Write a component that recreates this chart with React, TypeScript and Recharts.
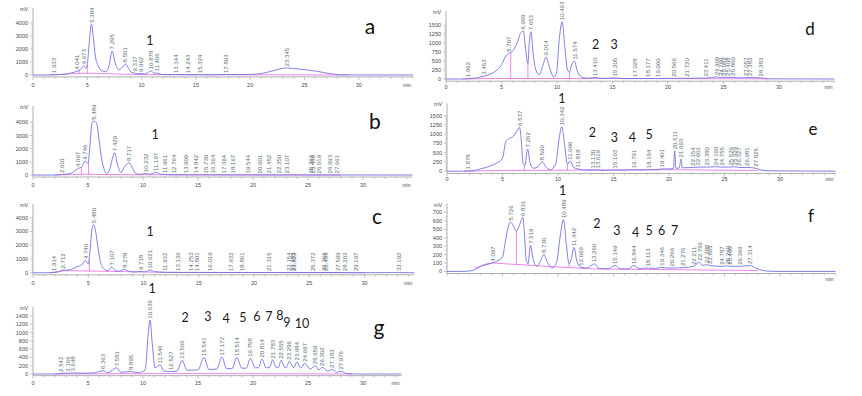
import React from 'react';
import { ComposedChart, Line, Scatter, XAxis, YAxis, ReferenceLine } from 'recharts';

type P = [number, number];
type Drop = [number, number, number];
type Num = [string, number, number];

// ---------------- Panel a ----------------
const traceA: P[] = [[0,0],[1.5,0],[1.933,20],[2.5,30],[3.0,60],[3.5,150],[4.041,280],[4.3,380],[4.5,550],[4.673,700],[4.85,520],[5.0,800],[5.15,2200],[5.384,3900],[5.55,2900],[5.75,1400],[6.0,700],[6.35,320],[6.7,250],[7.0,700],[7.295,1850],[7.55,950],[7.9,420],[8.2,560],[8.501,850],[8.8,520],[9.1,180],[9.337,150],[9.6,90],[9.962,110],[10.3,80],[10.6,200],[10.878,320],[11.15,120],[11.406,150],[11.8,40],[12.5,20],[13.144,30],[14.243,20],[15.324,20],[16.5,15],[17.803,30],[19.0,30],[20.0,40],[21.0,100],[22.0,300],[23.345,540],[24.5,450],[26.0,300],[27.5,80],[28.3,10],[30,0],[35,0]];
const baseA: P[] = [[1.5,0],[4.25,120],[5.0,130],[9.2,40],[12,20],[20,10],[29,0]];
const dropsA: Drop[] = [[4.25,120,400],[5.0,130,780]];
const labelsA = ['1.933','4.041','4.673','5.384','7.295','8.501','9.337','9.962','10.878','11.406','13.144','14.243','15.324','17.803','23.345'];
const numsA: Num[] = [['1',10.77,2640]];
const yTicksA = [0,1000,2000,3000,4000];

// ---------------- Panel b ----------------
const traceB: P[] = [[0,0],[2.0,0],[2.601,40],[3.0,60],[3.5,150],[4.097,500],[4.4,620],[4.746,1050],[5.0,900],[5.2,2500],[5.35,3900],[5.489,4100],[5.7,4050],[5.85,3700],[6.0,2700],[6.25,1200],[6.5,350],[6.7,100],[7.0,500],[7.2,1200],[7.42,1700],[7.65,900],[8.0,200],[8.3,600],[8.717,950],[9.0,600],[9.3,150],[9.6,50],[10.232,110],[10.6,60],[11.197,200],[11.6,60],[11.961,40],[12.764,20],[14.0,15],[20.0,10],[28.0,5],[34.5,0]];
const baseB: P[] = [[2,0],[4.4,60],[6.6,40],[10,20],[28,0]];
const dropsB: Drop[] = [[4.4,60,620],[5.05,55,950]];
const labelsB = ['2.601','4.097','4.746','5.489','7.420','8.717','10.232','11.197','11.961','12.764','13.909','14.842','15.730','16.364','17.364','18.167','19.544','20.601','21.452','22.350','23.107','25.262','25.488','26.019','26.993','27.661'];
const numsB: Num[] = [['1',11.1,3118]];
const yTicksB = [0,1000,2000,3000,4000];

// ---------------- Panel c ----------------
const traceC: P[] = [[0,0],[1.5,0],[1.914,20],[2.3,60],[2.712,200],[3.0,180],[3.5,260],[4.0,450],[4.4,560],[4.74,900],[5.0,650],[5.15,1500],[5.3,2900],[5.48,3500],[5.65,3100],[5.85,2000],[6.1,800],[6.4,300],[6.7,150],[6.9,200],[7.107,420],[7.4,200],[7.8,100],[8.278,250],[8.7,100],[9.2,50],[9.718,90],[10.1,60],[10.621,200],[11.0,80],[11.932,30],[13.136,20],[14.253,20],[14.801,20],[16.019,15],[17.932,15],[18.861,15],[21.315,15],[23.154,15],[23.485,15],[23.622,15],[25.372,15],[26.366,15],[26.496,15],[27.599,15],[28.203,10],[29.197,10],[31,5],[33.102,10],[34.5,0]];
const baseC: P[] = [[1.5,0],[2.9,150],[7.0,100],[12,30],[30,0]];
const dropsC: Drop[] = [[5.1,130,900]];
const labelsC = ['1.914','2.712','4.740','5.480','7.107','8.278','9.718','10.621','11.932','13.136','14.253','14.801','16.019','17.932','18.861','21.315','23.154','23.485','23.622','25.372','26.366','26.496','27.599','28.203','29.197','33.102'];
const numsC: Num[] = [['1',10.6,3003]];
const yTicksC = [0,1000,2000,3000,4000];

// ---------------- Panel g ----------------
const traceG: P[] = [[0,0],[2.0,0],[2.542,15],[3.166,20],[3.648,25],[4.5,20],[5.5,25],[6.363,80],[6.8,30],[7.581,150],[8.0,40],[8.895,60],[9.5,30],[10.2,100],[10.45,900],[10.636,1300],[10.85,700],[11.1,150],[11.546,220],[11.9,70],[12.527,60],[13.1,70],[13.566,330],[14.0,90],[15.0,100],[15.541,400],[16.0,110],[16.7,120],[17.172,410],[17.6,130],[18.1,130],[18.514,400],[19.0,140],[19.4,140],[19.758,380],[20.2,150],[20.5,150],[20.814,360],[21.2,150],[21.5,155],[21.783,340],[22.1,160],[22.3,160],[22.555,330],[22.9,160],[23.05,160],[23.296,310],[23.7,150],[23.984,290],[24.35,140],[24.697,260],[25.2,120],[25.659,200],[26.0,100],[26.302,160],[26.8,70],[27.183,110],[27.6,40],[27.976,70],[28.5,10],[29.5,0],[33.5,0]];
const baseG: P[] = [[2,0],[12,10],[29,0]];
const dropsG: Drop[] = [];
const labelsG = ['2.542','3.166','3.648','6.363','7.581','8.895','10.636','11.546','12.527','13.566','15.541','17.172','18.514','19.758','20.814','21.783','22.555','23.296','23.984','24.697','25.659','26.302','27.183','27.976'];
const numsG: Num[] = [['1',10.82,2077],['2',13.82,1353],['3',15.9,1401],['4',17.55,1329],['5',19.09,1353],['6',20.36,1401],['7',21.45,1377],['8',22.45,1425],['9',23.09,1256],['10',24.45,1208]];
const yTicksG = [0,200,400,600,800,1000,1200,1400];

// ---------------- Panel d ----------------
const traceD: P[] = [[0,0],[1.5,0],[1.962,10],[2.5,20],[3.0,50],[3.453,80],[4.0,140],[4.5,230],[5.0,400],[5.4,650],[5.707,720],[6.0,780],[6.4,1000],[6.75,1300],[6.969,1340],[7.15,900],[7.38,430],[7.5,1000],[7.653,1320],[7.85,700],[8.1,250],[8.4,120],[8.7,350],[9.014,615],[9.3,350],[9.7,60],[9.95,150],[10.2,1100],[10.463,1600],[10.7,900],[10.95,250],[11.12,200],[11.35,420],[11.574,500],[11.8,250],[12.2,60],[12.7,20],[13.41,40],[14.0,15],[15.205,30],[16.0,10],[17.028,15],[18.177,15],[19.06,15],[20.566,20],[21.72,20],[23.411,25],[24.409,60],[24.76,40],[25.062,50],[25.408,45],[25.86,50],[26.5,30],[27.057,40],[27.383,40],[28.383,30],[29.0,5],[35,0]];
const baseD: P[] = [[1.5,0],[4,15],[12,15],[29,5]];
const dropsD: Drop[] = [[5.83,15,740],[7.38,15,430],[11.12,15,200]];
const labelsD = ['1.962','3.453','5.707','6.969','7.653','9.014','10.463','11.574','13.410','15.205','17.028','18.177','19.060','20.566','21.720','23.411','24.409','24.760','25.062','25.408','25.860','27.057','27.383','28.383'];
const numsD: Num[] = [['2',13.49,978],['3',15.14,978]];
const yTicksD = [0,250,500,750,1000,1250,1500];

// ---------------- Panel e ----------------
const traceE: P[] = [[0,0],[1.5,0],[1.878,5],[2.5,20],[3.0,60],[3.5,100],[4.0,150],[4.5,220],[5.0,350],[5.3,800],[5.6,880],[6.0,950],[6.3,1080],[6.537,1180],[6.7,800],[6.85,200],[7.0,150],[7.262,600],[7.5,200],[7.8,80],[8.2,120],[8.59,250],[8.9,120],[9.3,40],[9.8,200],[10.1,880],[10.342,1200],[10.6,700],[10.85,180],[11.096,270],[11.4,100],[11.818,60],[12.3,30],[13.13,35],[13.619,30],[14.3,20],[15.103,35],[16.0,25],[16.791,40],[17.5,30],[18.154,40],[19.0,45],[19.401,60],[20.0,60],[20.4,70],[20.511,550],[20.62,80],[20.9,80],[21.093,330],[21.2,90],[22.154,100],[22.601,110],[23.38,110],[24.196,120],[24.755,110],[25.529,110],[25.929,120],[26.327,100],[26.981,100],[27.825,80],[28.3,30],[29,10],[35,0]];
const baseE: P[] = [[1.5,0],[5,20],[20,40],[28,20]];
const dropsE: Drop[] = [[6.96,25,150],[10.85,35,180]];
const labelsE = ['1.878','6.537','7.262','8.590','10.342','11.096','11.818','13.130','13.619','15.103','16.791','18.154','19.401','20.511','21.093','22.154','22.601','23.380','24.196','24.755','25.529','25.929','26.327','26.981','27.825'];
const numsE: Num[] = [['1',10.35,1970],['2',13.1,1043],['3',15.07,916],['4',16.69,916],['5',18.22,989]];
const yTicksE = [0,250,500,750,1000,1250,1500];

// ---------------- Panel f ----------------
const traceF: P[] = [[0,0],[1.5,0],[2.0,5],[2.5,20],[3.0,60],[3.5,85],[4.097,100],[4.6,130],[5.0,170],[5.25,350],[5.5,520],[5.726,585],[5.9,560],[6.25,480],[6.5,540],[6.831,640],[6.95,500],[7.15,120],[7.3,90],[7.519,310],[7.75,150],[8.1,60],[8.4,120],[8.73,200],[9.0,120],[9.5,40],[9.9,120],[10.2,420],[10.489,615],[10.75,320],[11.0,90],[11.2,150],[11.442,285],[11.7,120],[12.069,50],[12.6,40],[13.26,90],[13.7,35],[14.5,30],[15.149,70],[15.6,30],[16.3,30],[16.844,70],[17.3,35],[18.113,40],[18.8,35],[19.346,50],[19.8,40],[20.266,40],[21.276,45],[22.211,60],[22.756,110],[23.0,70],[23.388,80],[23.665,70],[24.787,60],[25.26,65],[25.46,60],[26.369,60],[27.314,70],[27.8,40],[28.5,10],[29.5,0],[35,0]];
const baseF: P[] = [[2.5,40],[4.1,100],[9,60],[13,30],[28,10]];
const dropsF: Drop[] = [[6.25,85,480],[7.3,78,90],[11.0,55,90]];
const labelsF = ['4.097','5.726','6.831','7.519','8.730','10.489','11.442','12.069','13.260','15.149','16.844','18.113','19.346','20.266','21.276','22.211','22.756','23.388','23.665','24.787','25.260','25.460','26.369','27.314'];
const numsF: Num[] = [['1',10.42,955],['2',13.5,573],['3',15.3,486],['4',17.0,463],['5',18.22,486],['6',19.34,486],['7',20.5,486]];
const yTicksF = [0,100,200,300,400,500,600,700];

const xTickLabels = [0,5,10,15,20,25,30];
const panelLetters: [string, number, number, number][] = [['a',370,25,21],['b',375,120,21],['c',377,215,21],['g',379,326,21],['d',810,28,17],['e',813,128,17],['f',811,215,17]];

// ---------------- styling ----------------
const BLUE = '#7272e2';
const PINK = '#e866e8';
const AXIS = '#9c9c9c';
const TXT = '#4a4a4a';
const RTC = '#5d7078';
const YW = 40, MT = 30, MR = 20, XH = 18;

interface Cfg {
  left: number; zeroY: number; k: number; ppm: number; xMax: number; xLabelGap: number;
  yMin: number; yAxisTop: number; yTop: number; minorStep: number; xLabels: boolean;
  trace: P[]; base: P[]; drops: Drop[]; labels: string[]; nums: Num[]; yTicks: number[];
}

const peakPoints = (trace: P[], labels: string[]) => labels.map((s) => {
  const t = parseFloat(s);
  let best = trace[0];
  for (const p of trace) if (Math.abs(p[0] - t) < Math.abs(best[0] - t)) best = p;
  return { x: t, y: best[1], text: s };
});

const XTick = (props: any) => {
  const { x, y, payload, show, gap } = props;
  const v = payload.value;
  const major = xTickLabels.includes(v);
  return (
    <g>
      <line x1={x} x2={x} y1={y} y2={y + (major ? 3 : 1.8)} stroke={AXIS} strokeWidth={0.6} />
      {major && show ? <text x={x} y={y + gap} textAnchor="middle" fontSize={5.5} fill={TXT}>{v}</text> : null}
    </g>
  );
};

const YTick = (props: any) => {
  const { x, y, payload, majors } = props;
  const v = payload.value;
  const major = majors.includes(v);
  return (
    <g>
      <line x1={x - (major ? 3 : 1.6)} x2={x} y1={y} y2={y} stroke={AXIS} strokeWidth={0.6} />
      {major ? <text x={x - 5} y={y + 2} textAnchor="end" fontSize={5.5} fill={TXT}>{v}</text> : null}
    </g>
  );
};

const RtLabel = (p: any) => {
  const { cx, cy, payload } = p;
  const yy = cy - 1.5;
  return (
    <text x={cx} y={yy} dy="0.35em" transform={`rotate(-90 ${cx} ${yy})`} textAnchor="start" fontSize={6.1} fill={RTC}>
      {payload.text}
    </text>
  );
};

const NumLabel = (p: any) => (
  <text x={p.cx} y={p.cy} textAnchor="middle" dominantBaseline="central" fontSize={12.5} fill="#1c1c1c"
    fontFamily="Lato, 'Open Sans', sans-serif">{p.payload.text}</text>
);

const AxisText = (p: any) => {
  const { cx, cy, payload } = p;
  if (payload.kind === 'mV') return <text x={cx - 9} y={cy + 3} textAnchor="middle" fontSize={5.5} fill={TXT}>mV</text>;
  return <text x={cx - 6} y={cy + payload.gap} textAnchor="middle" fontSize={5} fill={TXT}>min</text>;
};

function Panel({ c }: { c: Cfg }) {
  const plotTop = c.zeroY - c.yTop * c.k;
  const plotH = (c.yTop - c.yMin) * c.k;
  const plotW = c.xMax * c.ppm;
  const W = YW + plotW + MR;
  const H = MT + plotH + XH;
  const xTicksAll: number[] = [];
  for (let v = 0; v <= Math.floor(c.xMax); v += 1) xTicksAll.push(v);
  const yMaxMajor = c.yTicks[c.yTicks.length - 1];
  const yTicksAll: number[] = [];
  for (let v = 0; v <= yMaxMajor + 1e-6; v += c.minorStep) yTicksAll.push(Math.round(v));
  const traceData = c.trace.map(([x, y]) => ({ x, y }));
  const baseData = c.base.map(([x, y]) => ({ x, y }));
  const labelPts = peakPoints(c.trace, c.labels);
  const numPts = c.nums.map(([text, x, y]) => ({ x, y, text }));
  const axisPts = [{ x: 0, y: c.yAxisTop, kind: 'mV', gap: 0 }, { x: c.xMax, y: c.yMin, kind: 'min', gap: c.xLabelGap }];
  return (
    <div style={{ position: 'absolute', left: c.left - YW, top: plotTop - MT }}>
      <ComposedChart width={W} height={H} margin={{ top: MT, right: MR, left: 0, bottom: 0 }}
        style={{ fontFamily: "'Liberation Sans', Arial, sans-serif" }}>
        <XAxis type="number" dataKey="x" domain={[0, c.xMax]} ticks={xTicksAll} interval={0}
          tickSize={0} tickMargin={0} tickLine={false} height={XH}
          axisLine={{ stroke: AXIS, strokeWidth: 0.8 }}
          tick={(p: any) => <XTick {...p} show={c.xLabels} gap={c.xLabelGap} />} />
        <YAxis type="number" dataKey="y" domain={[c.yMin, c.yTop]} ticks={yTicksAll} interval={0}
          tickSize={0} tickMargin={0} tickLine={false} axisLine={false} width={YW}
          tick={(p: any) => <YTick {...p} majors={c.yTicks} />} />
        <ReferenceLine segment={[{ x: 0, y: c.yMin }, { x: 0, y: c.yAxisTop }]} stroke={AXIS} strokeWidth={0.8} />
        <Line data={baseData} dataKey="y" type="linear" stroke={PINK} strokeWidth={0.8} dot={false} activeDot={false} isAnimationActive={false} />
        {c.drops.map(([t, b, top], i) => (
          <Line key={'d' + i} data={[{ x: t, y: b }, { x: t, y: top }]} dataKey="y" type="linear" stroke={PINK}
            strokeWidth={0.8} dot={false} activeDot={false} isAnimationActive={false} />
        ))}
        <Line data={traceData} dataKey="y" type="monotone" stroke={BLUE} strokeWidth={0.9} dot={false} activeDot={false} isAnimationActive={false} />
        <Scatter data={labelPts} dataKey="y" shape={RtLabel} isAnimationActive={false} />
        <Scatter data={numPts} dataKey="y" shape={NumLabel} isAnimationActive={false} />
        <Scatter data={axisPts} dataKey="y" shape={AxisText} isAnimationActive={false} />
      </ComposedChart>
    </div>
  );
}

const panels: Cfg[] = [
  { left: 33, zeroY: 75, k: 0.013, ppm: 10.86, xMax: 35, xLabelGap: 10, yMin: -150, yAxisTop: 5150, yTop: 5150, minorStep: 200, xLabels: true,
    trace: traceA, base: baseA, drops: dropsA, labels: labelsA, nums: numsA, yTicks: yTicksA },
  { left: 33, zeroY: 175.3, k: 0.01315, ppm: 11.0, xMax: 34.5, xLabelGap: 10, yMin: -150, yAxisTop: 5250, yTop: 5250, minorStep: 200, xLabels: true,
    trace: traceB, base: baseB, drops: dropsB, labels: labelsB, nums: numsB, yTicks: yTicksB },
  { left: 33, zeroY: 273, k: 0.01375, ppm: 11.05, xMax: 34.5, xLabelGap: 10, yMin: -150, yAxisTop: 5000, yTop: 5000, minorStep: 200, xLabels: true,
    trace: traceC, base: baseC, drops: dropsC, labels: labelsC, nums: numsC, yTicks: yTicksC },
  { left: 33, zeroY: 374, k: 0.0414, ppm: 11.0, xMax: 33.5, xLabelGap: 9, yMin: -40, yAxisTop: 1620, yTop: 2150, minorStep: 100, xLabels: true,
    trace: traceG, base: baseG, drops: dropsG, labels: labelsG, nums: numsG, yTicks: yTicksG },
  { left: 446, zeroY: 79, k: 0.0358, ppm: 11.1, xMax: 35, xLabelGap: 7.5, yMin: -60, yAxisTop: 1900, yTop: 1900, minorStep: 50, xLabels: true,
    trace: traceD, base: baseD, drops: dropsD, labels: labelsD, nums: numsD, yTicks: yTicksD },
  { left: 447, zeroY: 170.7, k: 0.0371, ppm: 11.1, xMax: 35, xLabelGap: 7.5, yMin: -60, yAxisTop: 1825, yTop: 2350, minorStep: 50, xLabels: true,
    trace: traceE, base: baseE, drops: dropsE, labels: labelsE, nums: numsE, yTicks: yTicksE },
  { left: 447, zeroY: 271, k: 0.0843, ppm: 11.1, xMax: 35, xLabelGap: 7.5, yMin: -25, yAxisTop: 805, yTop: 1120, minorStep: 50, xLabels: false,
    trace: traceF, base: baseF, drops: dropsF, labels: labelsF, nums: numsF, yTicks: yTicksF },
];

export default function App() {
  return (
    <div style={{ position: 'absolute', left: 0, top: 0, width: 862, height: 396, background: '#fff', overflow: 'hidden' }}>
      {panels.map((c, i) => <Panel key={i} c={c} />)}
      {panelLetters.map(([t, x, y, fs]) => (
        <div key={t} style={{ position: 'absolute', left: x, top: y, transform: 'translate(-50%, -50%)', fontSize: fs, lineHeight: 1,
          fontFamily: "Lato, 'Open Sans', sans-serif", color: '#111' }}>{t}</div>
      ))}
    </div>
  );
}
